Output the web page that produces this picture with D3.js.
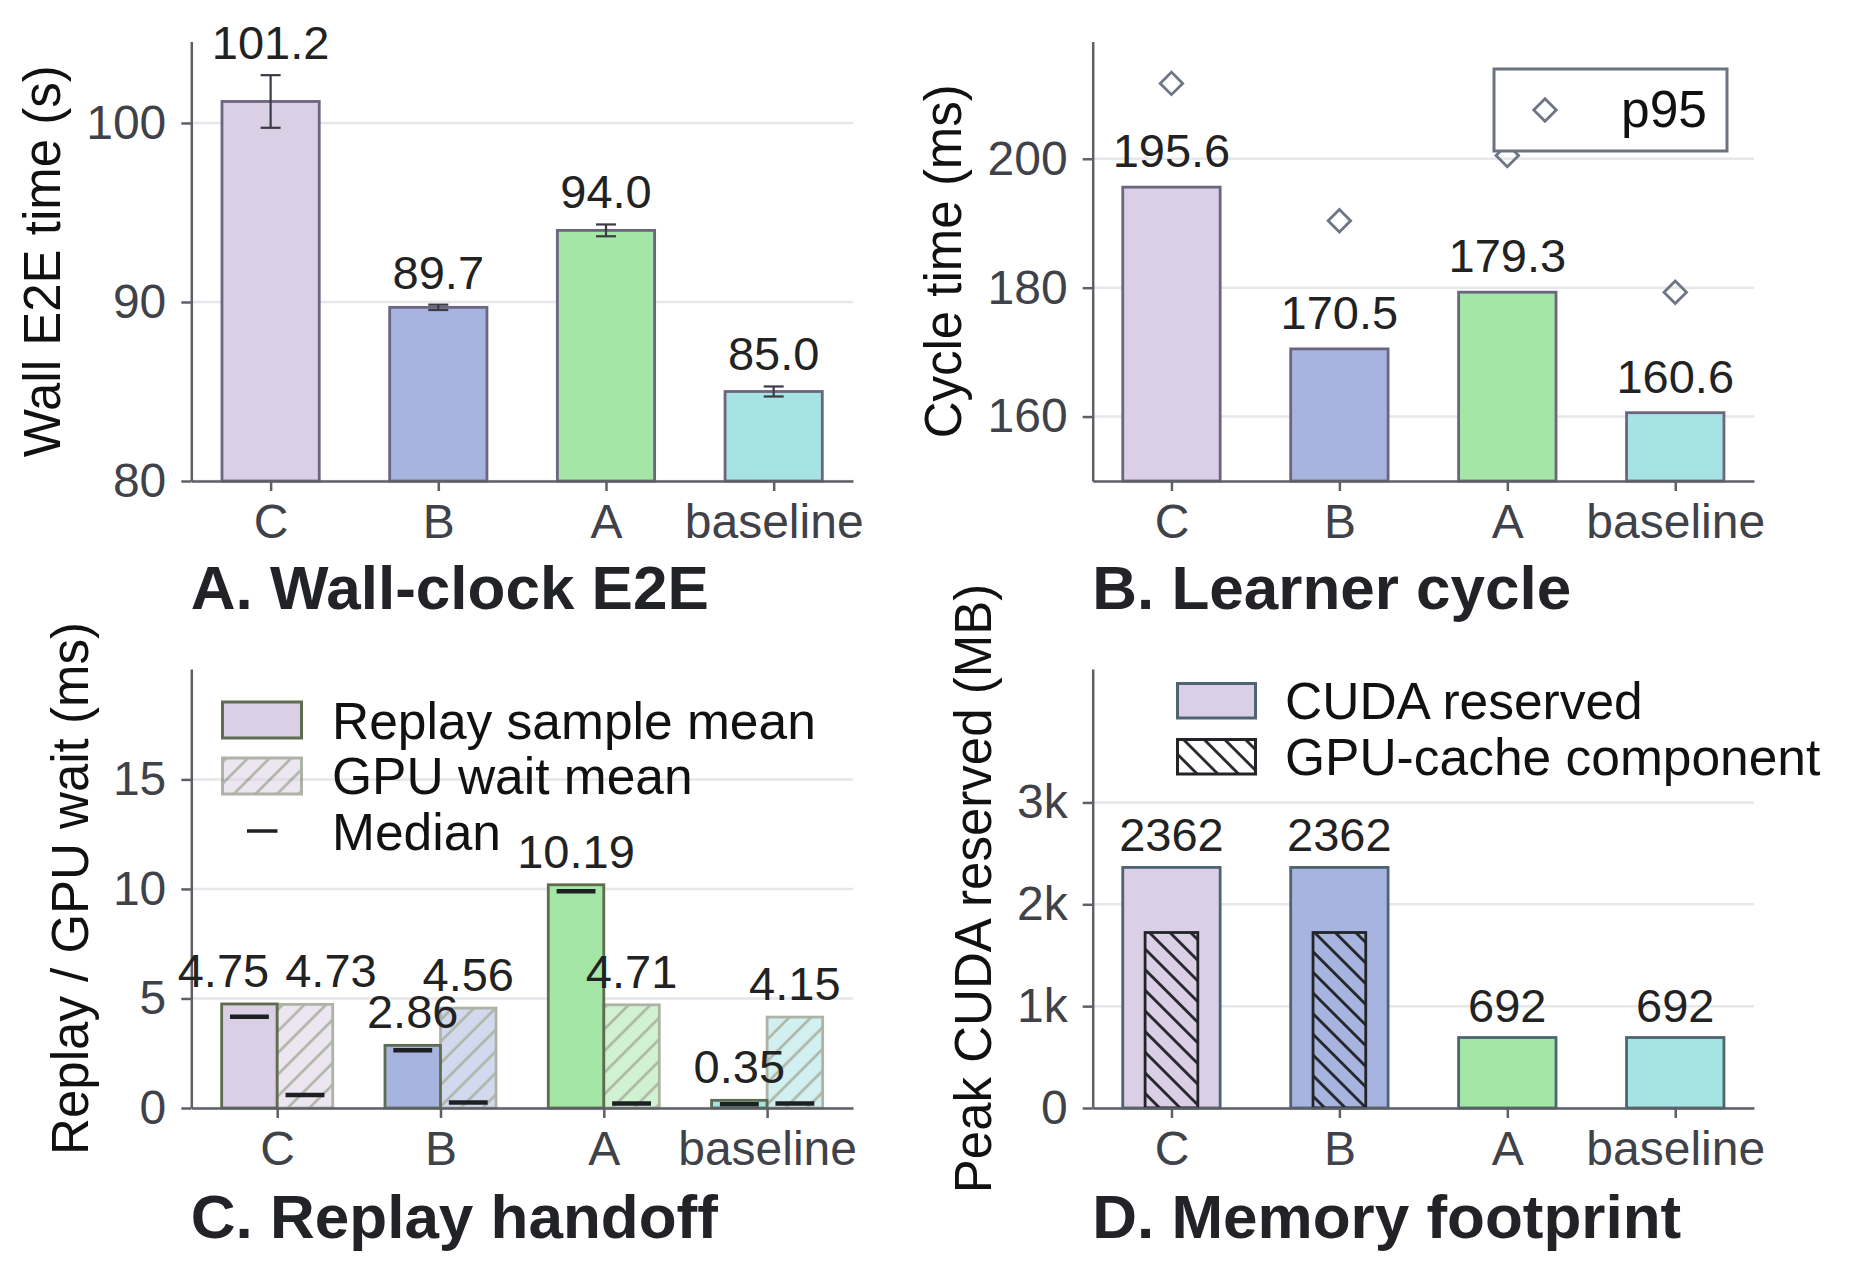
<!DOCTYPE html>
<html><head><meta charset="utf-8">
<script src="https://cdn.jsdelivr.net/npm/d3@7"></script>
<style>
html,body{margin:0;padding:0;background:#fff;}
svg{display:block;font-family:"Liberation Sans",Arial,Helvetica,sans-serif;}
</style></head><body>
<svg id="chart" width="1871" height="1276"></svg>
<script>
// ---------------- DATA ----------------
const categories = ["C", "B", "A", "baseline"];
const barColors = ["#dbcfe5", "#a7b4df", "#a3e6a6", "#a6e3e3"];

// Panel A: Wall-clock E2E
const wallMean = [101.2, 89.7, 94.0, 85.0];
const wallErr = [1.47, 0.15, 0.33, 0.28];
const wallTicks = [80, 90, 100];

// Panel B: Learner cycle
const cycleMean = [195.6, 170.5, 179.3, 160.6];
const cycleP95 = [211.7, 190.4, 200.5, 179.3];
const cycleTicks = [160, 180, 200];

// Panel C: Replay handoff
const replayMean = [4.75, 2.86, 10.19, 0.35];
const replayMedian = [4.17, 2.64, 9.90, 0.17];
const gpuWaitMean = [4.73, 4.56, 4.71, 4.15];
const gpuWaitMedian = [0.59, 0.25, 0.21, 0.21];
const handoffTicks = [0, 5, 10, 15];

// Panel D: Memory footprint
const cudaReserved = [2362, 2362, 692, 692];
const gpuCacheComponent = [1723, 1723, 0, 0];
const memTicks = [0, 1000, 2000, 3000];
const memTickLabels = ["0", "1k", "2k", "3k"];

// ---------------- STYLE ----------------
const SPINE = "#5e6068", GRID = "#e6e6eb", TICKTXT = "#3f4249", VALTXT = "#222222", TITLE = "#222326";
const FS_TICK = 48, FS_VAL = 47, FS_YLAB = 51, FS_LEG = 51.5, FS_TITLE = 62;

const svg = d3.select("#chart");
const defs = svg.append("defs");

function hatch(id, angle, spacing, color, width) {
  const p = defs.append("pattern").attr("id", id)
    .attr("patternUnits", "userSpaceOnUse")
    .attr("width", spacing).attr("height", spacing)
    .attr("patternTransform", `rotate(${angle})`);
  p.append("line").attr("x1", spacing / 2).attr("x2", spacing / 2)
    .attr("y1", -1).attr("y2", spacing + 1)
    .attr("stroke", color).attr("stroke-width", width);
}
hatch("hatchFwd", 45, 15.3, "#5e6c4f", 2.6);
hatch("hatchBack", -45, 14.6, "#222428", 2.8);

const layers = {};
["grid", "marks", "axes", "text"].forEach(k => layers[k] = svg.append("g"));

function panel(cfg) {
  const x = d3.scalePoint().domain(categories).range([cfg.x0, cfg.x1]).padding(cfg.pad);
  const y = d3.scaleLinear().domain(cfg.yDomain).range([cfg.yBot, cfg.yTop]);
  layers.grid.selectAll(null).data(cfg.ticks).enter().append("line")
    .attr("x1", cfg.x0).attr("x2", cfg.x1)
    .attr("y1", d => y(d)).attr("y2", d => y(d))
    .attr("stroke", GRID).attr("stroke-width", 2.5);
  const ya = d3.axisLeft(y).tickValues(cfg.ticks).tickSize(10).tickSizeOuter(0).tickPadding(15)
    .tickFormat(cfg.fmt || (d => d));
  const gy = layers.axes.append("g").attr("transform", `translate(${cfg.x0},0)`).call(ya);
  const xa = d3.axisBottom(x).tickSize(10).tickSizeOuter(0).tickPadding(13);
  const gx = layers.axes.append("g").attr("transform", `translate(0,${cfg.yBot})`).call(xa);
  [gx, gy].forEach(g => {
    g.attr("color", SPINE).attr("font-family", null).attr("font-size", FS_TICK);
    g.selectAll("path.domain").attr("stroke-width", 2.5);
    g.selectAll(".tick line").attr("stroke-width", 2.5);
    g.selectAll(".tick text").attr("fill", TICKTXT);
  });
  layers.text.append("text")
    .attr("transform", `translate(${cfg.ylabX},${(cfg.yTop + cfg.yBot) / 2}) rotate(-90)`)
    .attr("text-anchor", "middle").attr("font-size", FS_YLAB).attr("fill", "#111")
    .text(cfg.ylabel);
  layers.text.append("text").attr("x", cfg.x0 - 0.5).attr("y", cfg.titleY)
    .attr("font-size", FS_TITLE).attr("font-weight", "bold").attr("fill", TITLE)
    .text(cfg.title);
  return { x, y, step: x.step() };
}

// ---------------- PANEL A ----------------
{
  const p = panel({ x0: 191.3, x1: 853, yTop: 41.5, yBot: 481, pad: 0.473,
    yDomain: [80, 104.55], ticks: wallTicks, ylabel: "Wall E2E time (s)", ylabX: 60,
    title: "A. Wall-clock E2E", titleY: 608.5 });
  const bw = 0.58 * p.step;
  const idx = d3.range(categories.length);
  layers.marks.selectAll(null).data(idx).enter().append("rect")
    .attr("x", i => p.x(categories[i]) - bw / 2).attr("width", bw)
    .attr("y", i => p.y(wallMean[i])).attr("height", i => p.y(80) - p.y(wallMean[i]))
    .attr("fill", i => barColors[i]).attr("stroke", "#6c6580").attr("stroke-width", 2.8);
  const eg = layers.marks.selectAll(null).data(idx).enter().append("g")
    .attr("stroke", "#3a3b44").attr("stroke-width", 2.2);
  eg.append("line").attr("x1", i => p.x(categories[i])).attr("x2", i => p.x(categories[i]))
    .attr("y1", i => p.y(wallMean[i] - wallErr[i])).attr("y2", i => p.y(wallMean[i] + wallErr[i]));
  [-1, 1].forEach(s => {
    eg.append("line").attr("x1", i => p.x(categories[i]) - 10).attr("x2", i => p.x(categories[i]) + 10)
      .attr("y1", i => p.y(wallMean[i] + s * wallErr[i])).attr("y2", i => p.y(wallMean[i] + s * wallErr[i]));
  });
  layers.text.selectAll(null).data(idx).enter().append("text")
    .attr("x", i => p.x(categories[i])).attr("y", i => p.y(wallMean[i] + wallErr[i]) - 16)
    .attr("text-anchor", "middle").attr("font-size", FS_VAL).attr("fill", VALTXT)
    .text(i => wallMean[i].toFixed(1));
}

// ---------------- PANEL B ----------------
{
  const p = panel({ x0: 1092.7, x1: 1754, yTop: 41.5, yBot: 481, pad: 0.469,
    yDomain: [150, 218.2], ticks: cycleTicks, ylabel: "Cycle time (ms)", ylabX: 961,
    title: "B. Learner cycle", titleY: 608.5 });
  const bw = 0.58 * p.step;
  const idx = d3.range(categories.length);
  layers.marks.selectAll(null).data(idx).enter().append("rect")
    .attr("x", i => p.x(categories[i]) - bw / 2).attr("width", bw)
    .attr("y", i => p.y(cycleMean[i])).attr("height", i => p.y(150) - p.y(cycleMean[i]))
    .attr("fill", i => barColors[i]).attr("stroke", "#6c6580").attr("stroke-width", 2.8);
  const diamond = d3.symbol(d3.symbolSquare, 253);
  layers.marks.selectAll(null).data(idx).enter().append("path")
    .attr("d", diamond)
    .attr("transform", i => `translate(${p.x(categories[i])},${p.y(cycleP95[i])}) rotate(45)`)
    .attr("fill", "none").attr("stroke", "#6e7685").attr("stroke-width", 2.8);
  layers.text.selectAll(null).data(idx).enter().append("text")
    .attr("x", i => p.x(categories[i])).attr("y", i => p.y(cycleMean[i]) - 20)
    .attr("text-anchor", "middle").attr("font-size", FS_VAL).attr("fill", VALTXT)
    .text(i => cycleMean[i].toFixed(1));
  const lg = layers.text.append("g");
  lg.append("rect").attr("x", 1494).attr("y", 69).attr("width", 233).attr("height", 82)
    .attr("fill", "#fff").attr("stroke", "#6b7280").attr("stroke-width", 3);
  lg.append("path").attr("d", diamond).attr("transform", "translate(1545,110) rotate(45)")
    .attr("fill", "none").attr("stroke", "#6e7685").attr("stroke-width", 2.8);
  lg.append("text").attr("x", 1621).attr("y", 127).attr("font-size", FS_LEG).attr("fill", "#111").text("p95");
}

// ---------------- PANEL C ----------------
{
  const p = panel({ x0: 191.3, x1: 853, yTop: 669, yBot: 1108, pad: 0.526,
    yDomain: [0, 20.04], ticks: handoffTicks, ylabel: "Replay / GPU wait (ms)", ylabX: 88,
    title: "C. Replay handoff", titleY: 1237.5 });
  const bw = 0.34 * p.step;
  const idx = d3.range(categories.length);
  const OLIVE = "#5e6c4f";
  layers.marks.selectAll(null).data(idx).enter().append("rect")
    .attr("x", i => p.x(categories[i]) - bw).attr("width", bw)
    .attr("y", i => p.y(replayMean[i])).attr("height", i => p.y(0) - p.y(replayMean[i]))
    .attr("fill", i => barColors[i]).attr("stroke", OLIVE).attr("stroke-width", 2.8);
  const gg = layers.marks.selectAll(null).data(idx).enter().append("g").attr("opacity", 0.5);
  gg.append("rect").attr("x", i => p.x(categories[i])).attr("width", bw)
    .attr("y", i => p.y(gpuWaitMean[i])).attr("height", i => p.y(0) - p.y(gpuWaitMean[i]))
    .attr("fill", i => barColors[i]);
  gg.append("rect").attr("x", i => p.x(categories[i])).attr("width", bw)
    .attr("y", i => p.y(gpuWaitMean[i])).attr("height", i => p.y(0) - p.y(gpuWaitMean[i]))
    .attr("fill", "url(#hatchFwd)").attr("stroke", OLIVE).attr("stroke-width", 2.8);
  const mw = 0.7 * bw;
  layers.marks.selectAll(null).data(idx).enter().append("line")
    .attr("x1", i => p.x(categories[i]) - bw / 2 - mw / 2).attr("x2", i => p.x(categories[i]) - bw / 2 + mw / 2)
    .attr("y1", i => p.y(replayMedian[i])).attr("y2", i => p.y(replayMedian[i]))
    .attr("stroke", "#1f2024").attr("stroke-width", 4.5);
  layers.marks.selectAll(null).data(idx).enter().append("line")
    .attr("x1", i => p.x(categories[i]) + bw / 2 - mw / 2).attr("x2", i => p.x(categories[i]) + bw / 2 + mw / 2)
    .attr("y1", i => p.y(gpuWaitMedian[i])).attr("y2", i => p.y(gpuWaitMedian[i]))
    .attr("stroke", "#1f2024").attr("stroke-width", 4.5);
  idx.forEach(i => {
    const cx = p.x(categories[i]);
    const a = { x: cx - bw / 2, y: p.y(replayMean[i]) - 17, t: replayMean[i].toFixed(2) };
    const b = { x: cx + bw / 2, y: p.y(gpuWaitMean[i]) - 17, t: gpuWaitMean[i].toFixed(2) };
    const ta = layers.text.append("text").attr("x", a.x).attr("y", a.y).attr("text-anchor", "middle")
      .attr("font-size", FS_VAL).attr("fill", VALTXT).text(a.t);
    const tb = layers.text.append("text").attr("x", b.x).attr("y", b.y).attr("text-anchor", "middle")
      .attr("font-size", FS_VAL).attr("fill", VALTXT).text(b.t);
    if (Math.abs(a.y - b.y) < 20) {
      const need = (ta.node().getComputedTextLength() + tb.node().getComputedTextLength()) / 2 + 16;
      const have = b.x - a.x;
      if (have < need) {
        const s = (need - have) / 2;
        ta.attr("x", a.x - s); tb.attr("x", b.x + s);
      }
    }
  });
  const lg = layers.text.append("g");
  lg.append("rect").attr("x", 222.5).attr("y", 702).attr("width", 79).attr("height", 36)
    .attr("fill", barColors[0]).attr("stroke", OLIVE).attr("stroke-width", 3);
  const l2 = lg.append("g").attr("opacity", 0.5);
  l2.append("rect").attr("x", 222.5).attr("y", 758).attr("width", 79).attr("height", 36).attr("fill", barColors[0]);
  l2.append("rect").attr("x", 222.5).attr("y", 758).attr("width", 79).attr("height", 36)
    .attr("fill", "url(#hatchFwd)").attr("stroke", OLIVE).attr("stroke-width", 3);
  lg.append("line").attr("x1", 247).attr("x2", 277.5).attr("y1", 831).attr("y2", 831)
    .attr("stroke", "#1f2024").attr("stroke-width", 3.5);
  [["Replay sample mean", 738.5], ["GPU wait mean", 794], ["Median", 849.5]].forEach(([t, yy]) =>
    lg.append("text").attr("x", 332).attr("y", yy).attr("font-size", FS_LEG).attr("fill", "#111").text(t));
}

// ---------------- PANEL D ----------------
{
  const p = panel({ x0: 1092.7, x1: 1754, yTop: 669, yBot: 1108, pad: 0.469,
    yDomain: [0, 4310], ticks: memTicks, fmt: (d, i) => memTickLabels[i],
    ylabel: "Peak CUDA reserved (MB)", ylabX: 991, title: "D. Memory footprint", titleY: 1237.5 });
  const bw = 0.58 * p.step, iw = 0.314 * p.step;
  const idx = d3.range(categories.length);
  const SLATE = "#4e6472";
  layers.marks.selectAll(null).data(idx).enter().append("rect")
    .attr("x", i => p.x(categories[i]) - bw / 2).attr("width", bw)
    .attr("y", i => p.y(cudaReserved[i])).attr("height", i => p.y(0) - p.y(cudaReserved[i]))
    .attr("fill", i => barColors[i]).attr("stroke", SLATE).attr("stroke-width", 2.8);
  layers.marks.selectAll(null).data(idx.filter(i => gpuCacheComponent[i] > 0)).enter().append("rect")
    .attr("x", i => p.x(categories[i]) - iw / 2).attr("width", iw)
    .attr("y", i => p.y(gpuCacheComponent[i])).attr("height", i => p.y(0) - p.y(gpuCacheComponent[i]))
    .attr("fill", "url(#hatchBack)").attr("stroke", "#222428").attr("stroke-width", 2.8);
  layers.text.selectAll(null).data(idx).enter().append("text")
    .attr("x", i => p.x(categories[i])).attr("y", i => p.y(cudaReserved[i]) - 16)
    .attr("text-anchor", "middle").attr("font-size", FS_VAL).attr("fill", VALTXT)
    .text(i => d3.format("d")(cudaReserved[i]));
  const lg = layers.text.append("g");
  lg.append("rect").attr("x", 1177.5).attr("y", 683.5).attr("width", 78).attr("height", 34.5)
    .attr("fill", barColors[0]).attr("stroke", SLATE).attr("stroke-width", 3);
  lg.append("rect").attr("x", 1177.5).attr("y", 739.5).attr("width", 78).attr("height", 34.5)
    .attr("fill", "#fff");
  lg.append("rect").attr("x", 1177.5).attr("y", 739.5).attr("width", 78).attr("height", 34.5)
    .attr("fill", "url(#hatchBack)").attr("stroke", "#222428").attr("stroke-width", 3);
  [["CUDA reserved", 719], ["GPU-cache component", 775]].forEach(([t, yy]) =>
    lg.append("text").attr("x", 1285).attr("y", yy).attr("font-size", FS_LEG).attr("fill", "#111").text(t));
}
</script>
</body></html>
